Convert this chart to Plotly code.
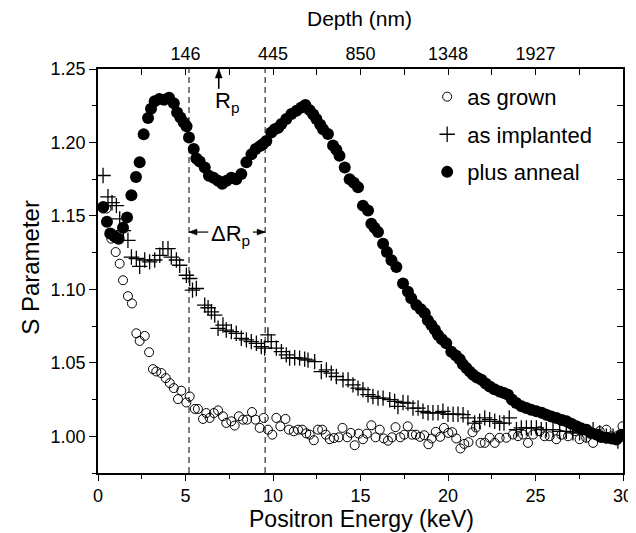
import plotly.graph_objects as go

# ---------------- data ----------------
anneal_E = [0.3, 0.51, 0.7, 0.95, 1.18, 1.43, 1.66, 1.91, 2.17, 2.38, 2.61, 2.86, 3.03, 3.24, 3.5, 3.78,
            4.06, 4.33, 4.52, 4.71, 4.9, 5.06, 5.2, 5.47, 5.62, 5.81, 6.1, 6.34, 6.6, 6.86, 7.1, 7.35,
            7.62, 7.9, 8.19, 8.48, 8.77, 9.01, 9.25, 9.43, 9.62, 9.9, 10.1, 10.3, 10.48, 10.76, 11.05,
            11.34, 11.62, 11.85, 12.1, 12.3, 12.48, 12.7, 12.86, 13.14, 13.43, 13.62, 13.8, 14.1, 14.38,
            14.62, 14.86, 15.14, 15.43, 15.62, 15.8, 16.0, 16.29, 16.51, 16.77, 17.05, 17.43, 17.71,
            17.9, 18.19, 18.45, 18.67, 18.85, 19.05, 19.25, 19.43, 19.65, 19.9, 20.19, 20.45, 20.67,
            20.85, 21.05, 21.25, 21.43, 21.65, 21.91, 22.15, 22.38, 22.65, 22.95, 23.2, 23.43, 23.65,
            23.9, 24.2, 24.48, 24.75, 25.05, 25.35, 25.62, 25.9, 26.2, 26.5, 26.77, 27.05, 27.34, 27.6,
            27.91, 28.2, 28.48, 28.75, 29.05, 29.35, 29.62, 29.9]
anneal_S = [1.156, 1.146, 1.138, 1.136, 1.1345, 1.142, 1.149, 1.164, 1.1765, 1.1865, 1.2055, 1.2166,
            1.223, 1.228, 1.2295, 1.229, 1.2305, 1.2267, 1.2204, 1.217, 1.2136, 1.211, 1.2034, 1.1956,
            1.189, 1.187, 1.183, 1.1774, 1.176, 1.174, 1.1719, 1.174, 1.176, 1.175, 1.1786, 1.1865,
            1.192, 1.1956, 1.1975, 1.199, 1.201, 1.2068, 1.209, 1.210, 1.2125, 1.216, 1.2193, 1.2215,
            1.2238, 1.2255, 1.222, 1.219, 1.216, 1.212, 1.209, 1.2057, 1.198, 1.195, 1.191, 1.183,
            1.175, 1.1725, 1.1695, 1.157, 1.1537, 1.1447, 1.142, 1.139, 1.131, 1.1254, 1.1198, 1.1153,
            1.104, 1.0983, 1.094, 1.0893, 1.0865, 1.0837, 1.079, 1.0757, 1.0725, 1.069, 1.066, 1.0633,
            1.0576, 1.055, 1.0525, 1.049, 1.0464, 1.044, 1.0418, 1.040, 1.0384, 1.036, 1.0339, 1.032,
            1.0305, 1.0295, 1.0283, 1.025, 1.0226, 1.0205, 1.0193, 1.018, 1.017, 1.016, 1.0147, 1.0135,
            1.0125, 1.011, 1.0102, 1.0085, 1.0068, 1.0055, 1.0045, 1.002, 1.0012, 0.9995, 0.999, 0.9985,
            0.9978, 1.001]

impl_E = [0.29, 0.57, 0.8, 1.05, 1.24, 1.45, 1.71, 1.91, 2.19, 2.38, 2.67, 2.95, 3.24, 3.53, 3.71, 4.0,
          4.19, 4.48, 4.67, 5.05, 5.24, 5.4, 5.62, 6.1, 6.29, 6.48, 6.67, 6.86, 7.14, 7.33, 7.62, 7.9,
          8.19, 8.48, 8.76, 9.05, 9.33, 9.52, 9.71, 9.9, 10.19, 10.48, 10.76, 10.95, 11.24, 11.52, 11.81,
          12.0, 12.38, 12.76, 13.05, 13.33, 13.62, 14.0, 14.29, 14.57, 14.86, 15.14, 15.43, 15.71, 16.0,
          16.29, 16.67, 16.95, 17.14, 17.43, 17.71, 18.0, 18.29, 18.57, 18.86, 19.14, 19.43, 19.71, 20.0,
          20.29, 20.57, 20.86, 21.14, 21.52, 21.81, 22.1, 22.38, 22.67, 22.95, 23.2, 23.5, 23.91, 24.19,
          24.48, 24.76, 25.05, 25.33, 25.62, 26.0, 26.38, 26.76, 27.14, 27.52, 27.9, 28.29, 28.67, 29.05,
          29.43, 29.71]
impl_S = [1.1775, 1.163, 1.159, 1.157, 1.148, 1.140, 1.1334, 1.122, 1.121, 1.1157, 1.12, 1.1187, 1.12,
          1.1232, 1.1277, 1.1277, 1.122, 1.12, 1.1164, 1.1096, 1.1074, 1.0995, 1.1006, 1.0893, 1.0875,
          1.0847, 1.0825, 1.0735, 1.0757, 1.0723, 1.0712, 1.0701, 1.0667, 1.0656, 1.0644, 1.0633, 1.061,
          1.06, 1.069, 1.0644, 1.06, 1.0576, 1.0554, 1.0532, 1.0535, 1.0532, 1.0525, 1.0518, 1.0508,
          1.044, 1.0452, 1.043, 1.0407, 1.0384, 1.0384, 1.035, 1.0328, 1.0317, 1.0283, 1.0271, 1.026,
          1.026, 1.0249, 1.0237, 1.0203, 1.023, 1.0226, 1.0192, 1.0192, 1.017, 1.016, 1.016, 1.016,
          1.017, 1.015, 1.015, 1.015, 1.0147, 1.0125, 1.009, 1.0102, 1.0125, 1.0113, 1.0102, 1.009,
          1.009, 1.0125, 1.0045, 1.0057, 1.0057, 1.0057, 1.0057, 1.0045, 1.0045, 1.0045, 1.0034, 1.0034,
          1.0023, 1.0023, 1.0012, 1.0045, 1.0023, 1.0, 1.0, 0.9967]

grown_E = [0.29, 0.48, 0.76, 1.01, 1.24, 1.43, 1.71, 1.94, 2.19, 2.38, 2.67, 2.92, 3.14, 3.33, 3.62, 3.87,
           4.1, 4.33, 4.57, 4.76, 5.05, 5.24, 5.53, 5.71, 6.0, 6.19, 6.38, 6.62, 6.86, 7.14, 7.33, 7.62,
           7.81, 8.05, 8.29, 8.52, 8.8, 9.0, 9.24, 9.47, 9.71, 9.96, 10.19, 10.42, 10.71, 10.91, 11.19,
           11.43, 11.67, 11.9, 12.1, 12.33, 12.57, 12.81, 13.02, 13.24, 13.48, 13.76, 13.97, 14.24, 14.45,
           14.67, 14.9, 15.14, 15.36, 15.62, 15.86, 16.1, 16.33, 16.57, 16.8, 17.0, 17.27, 17.5, 17.7,
           17.95, 18.17, 18.4, 18.64, 18.88, 19.07, 19.3, 19.55, 19.77, 20.02, 20.24, 20.47, 20.71, 20.93,
           21.17, 21.4, 21.6, 21.86, 22.1, 22.38, 22.67, 22.95, 23.33, 23.71, 24.0, 24.29, 24.57, 24.86,
           25.24, 25.52, 25.81, 26.19, 26.48, 26.86, 27.24, 27.52, 27.9, 28.29, 28.67, 29.05, 29.33,
           29.62, 29.97]
grown_S = [1.155, 1.155, 1.1345, 1.1254, 1.1175, 1.1062, 1.0954, 1.0904, 1.0701, 1.0649, 1.0683, 1.0572,
           1.0457, 1.0441, 1.043, 1.0396, 1.0362, 1.0328, 1.0253, 1.031, 1.023, 1.0271, 1.0186, 1.0186,
           1.0118, 1.0158, 1.0125, 1.0158, 1.0176, 1.0136, 1.0091, 1.0102, 1.0073, 1.0136, 1.0113, 1.0113,
           1.0165, 1.0113, 1.0057, 1.0125, 1.0045, 1.0011, 1.0125, 1.0068, 1.0118, 1.0045, 1.0034, 1.0045,
           1.0045, 1.002, 1.0011, 0.9973, 1.0045, 1.0045, 1.0011, 0.998, 0.9988, 0.9993, 1.0057, 0.9993,
           1.0023, 0.9939, 1.0018, 0.998, 1.0018, 1.0075, 0.9993, 1.0045, 0.9985, 0.997, 0.9993, 1.0062,
           0.9993, 1.0011, 1.0068, 1.0011, 1.0011, 0.9996, 1.0007, 0.9946, 0.9985, 1.003, 0.9996, 1.0057,
           1.0023, 1.0028, 0.9985, 0.9917, 0.9948, 0.996, 1.0028, 1.006, 0.9955, 0.9955, 0.999, 0.9955,
           0.999, 0.999, 1.0012, 1.0001, 1.0012, 0.9955, 1.0012, 1.0035, 1.0, 1.0, 0.998, 1.001, 1.0,
           1.0035, 0.998, 0.999, 0.9955, 1.0035, 1.0045, 1.0, 1.0, 1.0068]

x_ticks = [0, 5, 10, 15, 20, 25, 30]
y_ticks = [1.00, 1.05, 1.10, 1.15, 1.20, 1.25]
depth_tick_E = [5, 10, 15, 20, 25]
depth_tick_labels = ["146", "445", "850", "1348", "1927"]
dashed_E = [5.2, 9.55]
rp_E = 6.9
rp_tail_S = 1.2365
drp_S = 1.139
drp_tail_E = [6.3, 8.85]

X_RANGE = [0, 30]
Y_RANGE = [0.975, 1.25]
FONT = "Liberation Sans, Arial, sans-serif"

# page has an 8px body margin: margins below place the plot frame at x 98..623, y 69..473
W, H = 636, 533
M_L, M_R, M_T, M_B = 90, 21, 61, 68
PX_X = (W - M_L - M_R) / (X_RANGE[1] - X_RANGE[0])   # px per keV
PX_Y = (H - M_T - M_B) / (Y_RANGE[1] - Y_RANGE[0])   # px per S unit

fig = go.Figure()
fig.add_trace(go.Scatter(x=grown_E, y=grown_S, mode="markers", name="as grown", legendgroup="a",
                         marker=dict(symbol="circle-open", size=9, color="black", line=dict(width=1))))
fig.add_trace(go.Scatter(x=impl_E, y=impl_S, mode="markers", name="as implanted", legendgroup="b",
                         marker=dict(symbol="cross-thin-open", size=11, color="black",
                                     line=dict(width=1.3, color="black"))))
fig.add_trace(go.Scatter(x=anneal_E, y=anneal_S, mode="markers", name="plus anneal", legendgroup="c",
                         marker=dict(symbol="circle", size=12, color="black")))
# invisible trace to anchor the top/right frame axes
fig.add_trace(go.Scatter(x=[None], y=[None], xaxis="x2", yaxis="y2", showlegend=False,
                         hoverinfo="skip"))

axis_common = dict(showgrid=False, zeroline=False, showline=True, linecolor="black", linewidth=1.5,
                   tickcolor="black", tickwidth=1.2, automargin=False)

fig.update_layout(
    width=W, height=H,
    margin=dict(l=M_L, r=M_R, t=M_T, b=M_B, autoexpand=False),
    paper_bgcolor="white", plot_bgcolor="white",
    font=dict(family=FONT, color="black", size=18),
    xaxis=dict(range=X_RANGE, tickvals=x_ticks, ticks="outside", ticklen=6,
               minor=dict(dtick=2.5, ticks="outside", ticklen=4, tickcolor="black"),
               tickfont=dict(size=18), **axis_common),
    xaxis2=dict(range=X_RANGE, overlaying="x", side="top", tickvals=depth_tick_E,
                ticktext=depth_tick_labels, ticks="inside", ticklen=6, tickfont=dict(size=18),
                minor=dict(dtick=2.5, ticks="inside", ticklen=6, tickcolor="black"),
                **axis_common),
    yaxis=dict(range=Y_RANGE, tickvals=y_ticks, tickformat=".2f", ticks="outside", ticklen=7,
               minor=dict(dtick=0.025, tick0=1.0, ticks="outside", ticklen=4, tickcolor="black"),
               tickfont=dict(size=18), **axis_common),
    yaxis2=dict(range=Y_RANGE, overlaying="y", side="right", dtick=0.025, tick0=1.0, ticks="inside",
                ticklen=6, showticklabels=False, **axis_common),
    legend=dict(x=0.627, y=0.983, xanchor="left", yanchor="top", bgcolor="rgba(0,0,0,0)",
                font=dict(size=22), traceorder="grouped", tracegroupgap=6),
    showlegend=True,
)

# axis titles as annotations (paper coords relative to the plot area)
fig.add_annotation(x=0.501, y=-0.114, xref="paper", yref="paper", text="Positron Energy (keV)",
                   showarrow=False, xanchor="center", yanchor="middle", font=dict(size=23))
fig.add_annotation(x=0.499, y=1.124, xref="paper", yref="paper", text="Depth (nm)",
                   showarrow=False, xanchor="center", yanchor="middle", font=dict(size=21))
fig.add_annotation(x=-0.128, y=0.51, xref="paper", yref="paper", text="S Parameter",
                   showarrow=False, xanchor="center", yanchor="middle", textangle=-90,
                   font=dict(size=24))

for e in dashed_E:
    fig.add_shape(type="line", x0=e, x1=e, y0=Y_RANGE[0], y1=Y_RANGE[1], xref="x", yref="y",
                  line=dict(color="black", width=1, dash="6px,4px"))


def arrow(x_tail, y_tail, x_tip, y_tip, width, head_len=9, head_half=3.5):
    """Line plus filled triangular head, head sized in pixels."""
    fig.add_shape(type="line", x0=x_tail, y0=y_tail, x1=x_tip, y1=y_tip, xref="x", yref="y",
                  line=dict(color="black", width=width))
    if x_tail == x_tip:   # vertical
        sgn = 1 if y_tip > y_tail else -1
        by = y_tip - sgn * head_len / PX_Y
        hw = head_half / PX_X
        path = f"M {x_tip} {y_tip} L {x_tip - hw} {by} L {x_tip + hw} {by} Z"
    else:                 # horizontal
        sgn = 1 if x_tip > x_tail else -1
        bx = x_tip - sgn * head_len / PX_X
        hh = head_half / PX_Y
        path = f"M {x_tip} {y_tip} L {bx} {y_tip - hh} L {bx} {y_tip + hh} Z"
    fig.add_shape(type="path", path=path, xref="x", yref="y", fillcolor="black",
                  line=dict(color="black", width=0.5))


# Rp arrow and label
arrow(rp_E, rp_tail_S, rp_E, Y_RANGE[1], 1.6)
fig.add_annotation(x=6.55, y=1.2275, xref="x", yref="y", text="R<sub>p</sub>", showarrow=False,
                   xanchor="left", yanchor="middle", font=dict(size=22, family=FONT))

# Delta Rp label and arrows
arrow(drp_tail_E[0], drp_S, dashed_E[0], drp_S, 1.2, head_len=8, head_half=3)
arrow(drp_tail_E[1], drp_S, dashed_E[1], drp_S, 1.2, head_len=8, head_half=3)
fig.add_annotation(x=7.58, y=1.137, xref="x", yref="y", text="ΔR<sub>p</sub>", showarrow=False,
                   xanchor="center", yanchor="middle", font=dict(size=22, family=FONT))

fig.write_html("out.html")
